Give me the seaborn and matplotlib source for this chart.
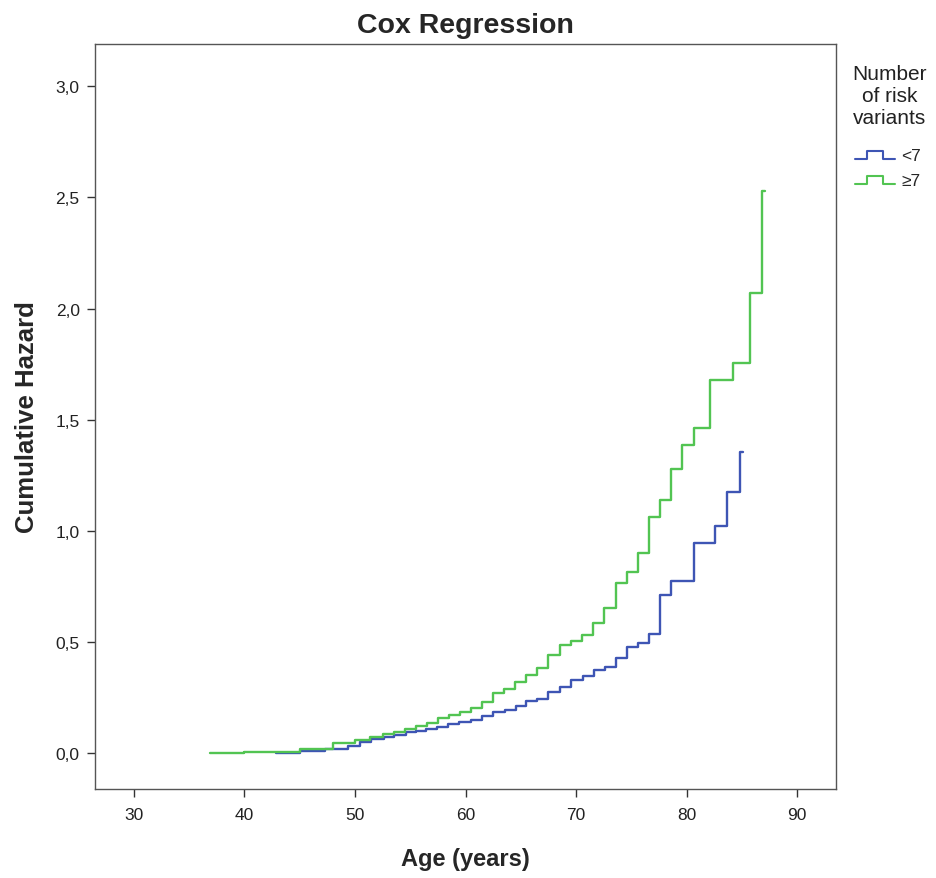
import matplotlib
matplotlib.use("Agg")
import matplotlib.pyplot as plt
import seaborn as sns
import pandas as pd
import numpy as np
from matplotlib.lines import Line2D
from matplotlib.legend_handler import HandlerLine2D
from matplotlib.ticker import FuncFormatter

# ---- data ----
groups = ["<7", "\u22657"]
ages_low = [42.9, 45.0, 47.3, 49.4, 50.5, 51.5, 52.6, 53.5, 54.6,
            55.5, 56.4, 57.4, 58.4, 59.4, 60.5, 61.5, 62.5, 63.6, 64.6, 65.5,
            66.5, 67.5, 68.5, 69.5, 70.6, 71.6, 72.6, 73.6, 74.6, 75.6, 76.6,
            77.6, 78.6, 80.7, 82.6, 83.6, 84.8]
haz_low = [0.001, 0.01, 0.021, 0.033, 0.05, 0.065, 0.075, 0.081, 0.094,
           0.1, 0.111, 0.12, 0.13, 0.141, 0.148, 0.168, 0.186, 0.193, 0.213, 0.235,
           0.245, 0.274, 0.298, 0.328, 0.347, 0.373, 0.387, 0.427, 0.477, 0.497, 0.538,
           0.712, 0.775, 0.945, 1.022, 1.175, 1.355]
end_low = 85.05

ages_high = [36.9, 40.0, 45.0, 48.0, 50.0, 51.4, 52.5,
             53.5, 54.5, 55.5, 56.5, 57.5, 58.5, 59.5, 60.5, 61.5, 62.5, 63.5,
             64.5, 65.5, 66.5, 67.5, 68.5, 69.5, 70.5, 71.5, 72.5,
             73.6, 74.6, 75.6, 76.6, 77.6, 78.6, 79.6,
             80.7, 82.1, 84.2, 85.7, 86.8]
haz_high = [0.0, 0.004, 0.018, 0.045, 0.059, 0.074, 0.088,
            0.098, 0.108, 0.122, 0.135, 0.157, 0.171, 0.188, 0.205, 0.231, 0.273, 0.29,
            0.321, 0.353, 0.385, 0.443, 0.486, 0.505, 0.533, 0.588, 0.652,
            0.768, 0.816, 0.903, 1.065, 1.138, 1.28, 1.385,
            1.465, 1.68, 1.754, 2.07, 2.53]
end_high = 87.1

xticks = [30, 40, 50, 60, 70, 80, 90]
yticks = [0.0, 0.5, 1.0, 1.5, 2.0, 2.5, 3.0]

colors = {"<7": "#3E55B4", "\u22657": "#52C452"}

# ---- build frame ----
rows = []
for g, a, h, e in [(groups[0], ages_low, haz_low, end_low),
                   (groups[1], ages_high, haz_high, end_high)]:
    xs = list(a) + [e]
    ys = list(h) + [h[-1]]
    for i, (x, y) in enumerate(zip(xs, ys)):
        rows.append({"age": x, "hazard": y, "group": g, "order": i})
df = pd.DataFrame(rows)

sns.set_theme(style="white")
plt.rcParams["font.family"] = ["Liberation Sans", "DejaVu Sans"]

fig = plt.figure(figsize=(9.37, 8.79), dpi=100)
ax = fig.add_axes([0.1014, 0.1013, 0.7908, 0.8475])

sns.lineplot(data=df, x="age", y="hazard", hue="group", palette=colors,
             estimator=None, sort=False, units="group", drawstyle="steps-post",
             linewidth=1.7, ax=ax, legend=False)

ax.set_xlim(26.5, 93.5)
ax.set_ylim(-0.16, 3.19)
ax.set_xticks(xticks)
ax.set_yticks(yticks)
ax.yaxis.set_major_formatter(FuncFormatter(lambda v, p: f"{v:.1f}".replace(".", ",")))
ax.tick_params(axis="both", which="major", direction="out", length=6, width=1,
               color="#333333", labelsize=12.5, labelcolor="#222222", pad=5,
               bottom=True, left=True)
ax.tick_params(axis="x", pad=7)
for s in ax.spines.values():
    s.set_color("#555555")
    s.set_linewidth(1.0)
    s.set_visible(True)

ax.set_xlabel("Age (years)", fontsize=17, fontweight="bold", labelpad=18)
ax.set_ylabel("Cumulative Hazard", fontsize=18.5, fontweight="bold", labelpad=12)
ax.set_title("Cox Regression", fontsize=20.5, fontweight="bold", pad=9)


class StepHandler(HandlerLine2D):
    def create_artists(self, legend, orig_handle, xdescent, ydescent,
                       width, height, fontsize, trans):
        x0 = -xdescent
        w = width
        yb = -ydescent + height * 0.1
        yt = -ydescent + height * 0.75
        xs = [x0, x0 + w * 0.3, x0 + w * 0.3, x0 + w * 0.7, x0 + w * 0.7, x0 + w]
        ys = [yb, yb, yt, yt, yb, yb]
        ln = Line2D(xs, ys, color=orig_handle.get_color(), linewidth=1.5)
        ln.set_transform(trans)
        return [ln]


# legend title as separate centered text
fig.text(890 / 937, 1 - 65 / 879, "Number\nof risk\nvariants", ha="center",
         va="top", fontsize=15, linespacing=1.2, color="#222222")

handles = [Line2D([0], [0], color=colors[g]) for g in groups]
leg = fig.legend(handles, groups, loc="upper left",
                 bbox_to_anchor=(855 / 937, 1 - 149 / 879), frameon=False,
                 fontsize=12.5, handlelength=2.3, handletextpad=0.35,
                 labelspacing=0.55, borderpad=0, borderaxespad=0,
                 handler_map={Line2D: StepHandler()})

fig.savefig("out.png", dpi=100, facecolor="white")
